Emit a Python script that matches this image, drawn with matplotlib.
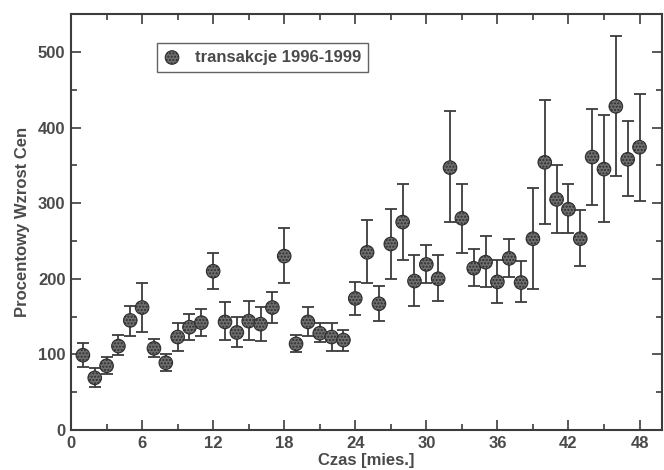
import numpy as np
import matplotlib.pyplot as plt
from matplotlib.ticker import MultipleLocator

# --- data ---
months = list(range(1, 49))
values = [99, 69, 85, 111, 145, 162, 108, 89, 123, 136, 142, 210,
          143, 129, 144, 140, 162, 230, 114, 143, 128, 123, 119, 174,
          235, 167, 246, 275, 197, 219, 200, 347, 280, 214, 222, 196,
          227, 195, 253, 354, 305, 292, 253, 361, 345, 428, 358, 374]
upper = [115, 82, 97, 126, 164, 195, 120, 100, 142, 153, 160, 234,
         169, 149, 170, 163, 183, 267, 126, 163, 142, 142, 132, 196,
         278, 190, 292, 325, 231, 245, 231, 422, 325, 239, 257, 225,
         252, 223, 320, 437, 351, 325, 291, 425, 417, 521, 408, 444]
lower = [84, 57, 74, 99, 125, 130, 97, 78, 105, 119, 125, 187,
         119, 110, 119, 118, 141, 195, 103, 124, 116, 104, 105, 152,
         194, 144, 200, 225, 164, 194, 170, 275, 234, 190, 189, 168,
         202, 169, 186, 272, 261, 261, 217, 297, 275, 336, 310, 303]
label = "transakcje 1996-1999"

ink = '#3c3c3c'
plt.rcParams['font.family'] = ['Liberation Sans', 'DejaVu Sans']

fig = plt.figure(figsize=(6.64, 4.70), dpi=100)
ax = fig.add_axes([0.107, 0.085, 0.890, 0.885])

m = np.array(months)
v = np.array(values)
yerr = [v - np.array(lower), np.array(upper) - v]

ax.errorbar(m, v, yerr=yerr, fmt='none', ecolor=ink, elinewidth=1.3,
            capsize=4.5, capthick=1.3, zorder=2)
ax.scatter(m, v, s=95, facecolor='#6e6e6e', edgecolor='#2e2e2e',
           linewidth=0.8, hatch='.....', zorder=3, label=label)

ax.set_xlim(0, 49.9)
ax.set_ylim(0, 550)
ax.xaxis.set_major_locator(MultipleLocator(6))
ax.xaxis.set_minor_locator(MultipleLocator(3))
ax.yaxis.set_major_locator(MultipleLocator(100))
ax.yaxis.set_minor_locator(MultipleLocator(50))
ax.tick_params(which='both', direction='in', top=True, right=True,
               color=ink, width=1.2, labelsize=12, labelcolor='#4a4a4a', pad=4)
ax.tick_params(which='major', length=7)
ax.tick_params(which='minor', length=4)
for s in ax.spines.values():
    s.set_color(ink)
    s.set_linewidth(1.5)

ax.set_xlabel("Czas [mies.]", fontsize=12, color='#4a4a4a', fontweight='bold', labelpad=2)
ax.set_ylabel("Procentowy Wzrost Cen", fontsize=12, color='#4a4a4a', fontweight='bold', labelpad=6)
for t in ax.get_xticklabels() + ax.get_yticklabels():
    t.set_fontweight('bold')

leg = ax.legend(loc='upper left', bbox_to_anchor=(0.1455, 0.930), borderaxespad=0,
                frameon=True, fancybox=False, fontsize=12, handlelength=1.0,
                handletextpad=0.9, borderpad=0.4, scatterpoints=1)
leg.get_frame().set_edgecolor(ink)
leg.get_frame().set_linewidth(1.0)
for t in leg.get_texts():
    t.set_color('#4a4a4a')
    t.set_fontweight('bold')

fig.savefig('out.png', dpi=100)
